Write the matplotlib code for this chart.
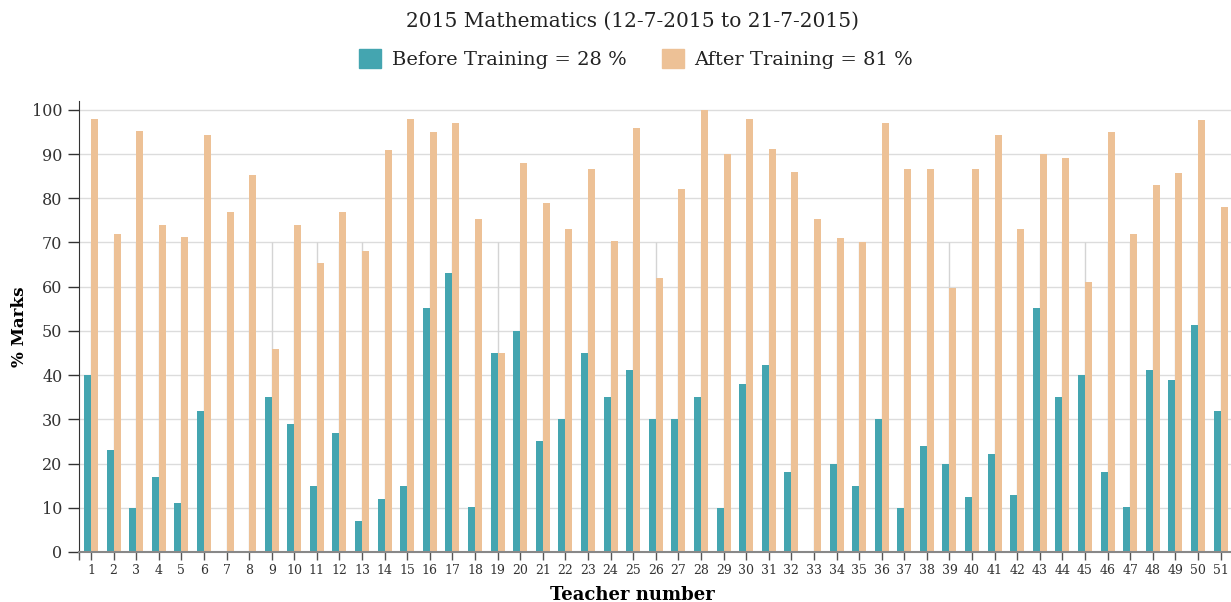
import matplotlib
matplotlib.use("Agg")
import matplotlib.pyplot as plt
from matplotlib.patches import Patch

teachers = list(range(1, 52))
before = [40, 23, 10, 17, 11, 32, 0, 0, 35, 29, 15, 27, 7, 12, 15, 55.2, 63.2, 10.2, 45, 50,
          25, 30, 45, 35, 41.2, 30, 30, 35, 10, 38, 42.3, 18, 0, 20, 15, 30, 10, 24, 20, 12.5,
          22.2, 13, 55.2, 35, 40, 18, 10.2, 41.2, 39, 51.4, 32]
after = [98, 72, 95.3, 74, 71.3, 94.2, 77, 85.2, 46, 74, 65.3, 77, 68, 91, 98, 95, 97, 75.2, 45, 88,
         79, 73, 86.7, 70.4, 96, 62, 82.2, 100, 90, 98, 91.2, 86, 75.2, 71, 70.2, 97, 86.7, 86.7, 59.8, 86.7,
         94.2, 73, 90, 89, 61, 95, 72, 83, 85.8, 97.8, 78]
target = [70] * len(teachers)
before_avg = 28
after_avg = 81

teal = "#44a5b0"
peach = "#edc196"

plt.rcParams["font.family"] = ["DejaVu Serif"]

fig = plt.figure(figsize=(12.31, 6.02), dpi=100)
ax = fig.add_axes([79 / 1231, 50 / 602, 1152 / 1231, 451 / 602])

w = 0.31
ax.vlines(teachers, 0, target, color="#d4d4d4", lw=1, zorder=1)
ax.bar([t - w / 2 for t in teachers], before, width=w, color=teal, zorder=2)
ax.bar([t + w / 2 for t in teachers], after, width=w, color=peach, zorder=2)

ax.set_xlim(0.47, 51.46)
ax.set_ylim(0, 102)
ax.set_yticks(range(0, 101, 10))
ax.set_xticks(teachers)
ax.set_xticklabels([str(t) for t in teachers], fontsize=9, color="#333333")
ax.set_xticks([0.47], minor=True)
ax.tick_params(axis="y", labelsize=11.5, colors="#333333", length=8, width=1, pad=4)
ax.tick_params(axis="x", which="both", length=6, width=1, colors="#555555", labelcolor="#333333", pad=3)
ax.yaxis.grid(True, color="#dcdcdc", lw=1)
ax.set_axisbelow(True)

for s in ["top", "right"]:
    ax.spines[s].set_visible(False)
ax.spines["left"].set_color("#333333")
ax.spines["bottom"].set_color("#888888")
ax.spines["bottom"].set_linewidth(1.5)

ax.set_ylabel("% Marks", fontsize=12, fontweight="bold")
ax.yaxis.set_label_coords(-0.0443, 0.5)
fig.text(632 / 1231, 1 - 595 / 602, "Teacher number", fontsize=13, fontweight="bold",
         ha="center", va="center")

fig.text(632 / 1231, 1 - 21 / 602, "2015 Mathematics (12-7-2015 to 21-7-2015)", fontsize=14.5,
         ha="center", va="center", color="#222222")

handles = [Patch(color=teal), Patch(color=peach)]
labels = [f"Before Training = {before_avg} %", f"After Training = {after_avg} %"]
fig.legend(handles, labels, loc="center", bbox_to_anchor=(636 / 1231, 1 - 59 / 602), ncol=2,
           frameon=False, fontsize=14, handlelength=1.15, handleheight=1.15,
           handletextpad=0.55, columnspacing=1.8, labelcolor="#222222")

fig.savefig("out.png", dpi=100)
